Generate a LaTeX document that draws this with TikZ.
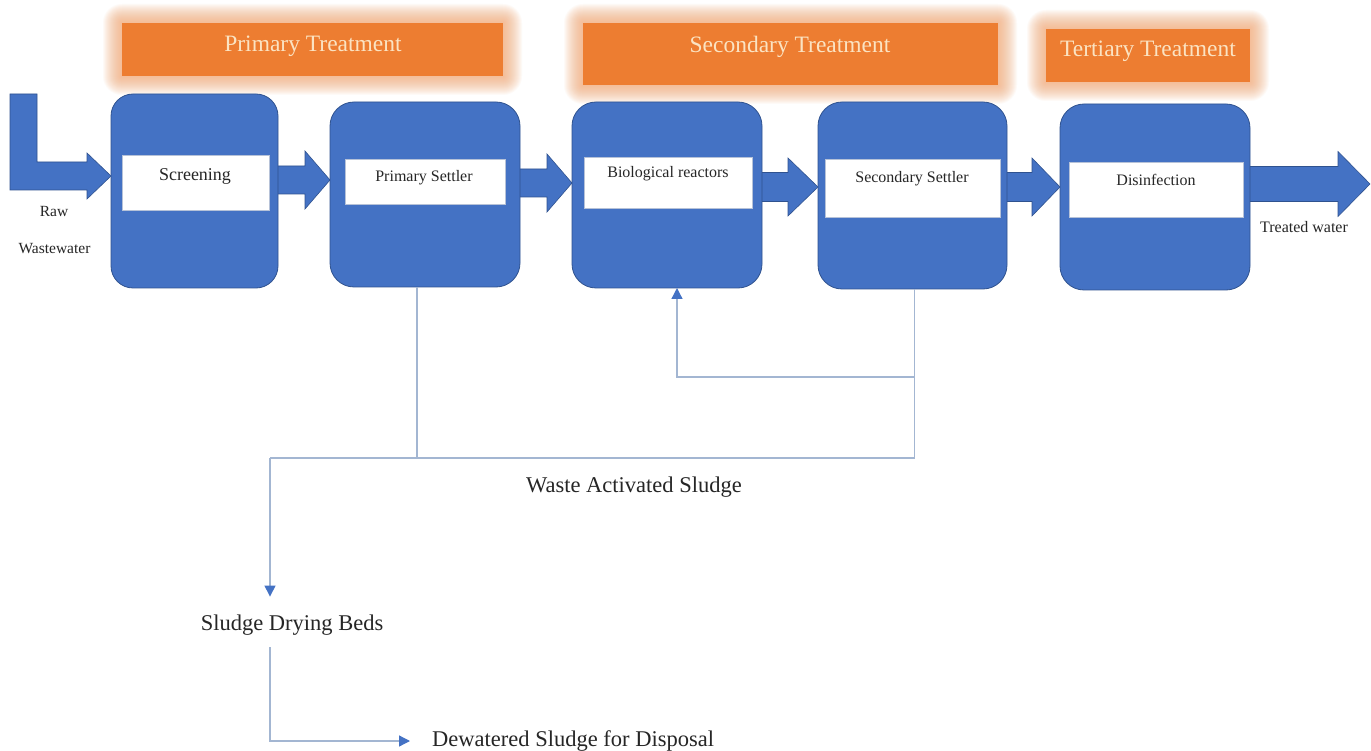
\documentclass[tikz,border=0pt]{standalone}
\usepackage{fontspec}
\setmainfont{Liberation Serif}
\usetikzlibrary{arrows.meta,calc}
\definecolor{boxblue}{HTML}{4472C4}
\definecolor{boxedge}{HTML}{2F528F}
\definecolor{hdrorange}{HTML}{ED7D31}
\definecolor{hdrglow}{HTML}{F4A46E}
\definecolor{hdrtext}{HTML}{FBE3C2}
\definecolor{thinline}{HTML}{A3B6D2}
\definecolor{txt}{HTML}{262626}
\tikzset{
 unitbox/.style={draw=boxedge, fill=boxblue, line width=0.8pt, rounded corners=24pt, inner sep=0pt, outer sep=0pt},
 whitebox/.style={fill=white, draw=boxedge!35, line width=0.4pt, inner sep=0pt, outer sep=0pt},
 lbl/.style={text=txt, font=\fontsize{16}{18}\selectfont, inner sep=0pt},
 biglbl/.style={text=txt, font=\fontsize{22.5}{26}\selectfont, inner sep=0pt},
 hdr/.style={fill=hdrorange, inner sep=0pt, outer sep=0pt},
 hdrtxt/.style={text=hdrtext, font=\fontsize{23.5}{26}\selectfont, inner sep=0pt},
 barrow/.style={fill=boxblue, draw=boxedge, line width=0.6pt, line join=miter},
 flow/.style={draw=thinline, line width=1.3pt},
 tip/.style={-{Triangle[width=11pt,length=11pt,color=boxblue]}},
 glow/.style={fill=hdrglow, opacity=0.055},
}
\newcommand\blockarr[5]{%
 \path #1 coordinate (ba1) #2 coordinate (ba2);
 \filldraw[barrow] ($(ba1)+(0,-#3)$) -- ($(ba2)+(-#5,-#3)$) -- ($(ba2)+(-#5,-#4)$) -- (ba2) -- ($(ba2)+(-#5,#4)$) -- ($(ba2)+(-#5,#3)$) -- ($(ba1)+(0,#3)$) -- cycle;}
\begin{document}
\begin{tikzpicture}[x=1pt,y=-1pt]
\useasboundingbox (0,0) rectangle (1371,751);
\fill[white] (0,0) rectangle (1371,751);

% headers with glow
\node[hdr, minimum width=381pt, minimum height=53pt] (h1) at (312.5,49.5) {};
\node[hdr, minimum width=415pt, minimum height=62pt] (h2) at (790.5,54) {};
\node[hdr, minimum width=204pt, minimum height=53pt] (h3) at (1148,55.5) {};
\foreach \h in {h1,h2,h3}{
  \foreach \k in {1,...,19}{
    \fill[glow, rounded corners=\k pt] ($(\h.north west)+(-\k,-\k)$) rectangle ($(\h.south east)+(\k,\k)$);
  }
}
\foreach \h in {h1,h2,h3}{ \fill[hdrorange] (\h.north west) rectangle (\h.south east); }
\node[hdrtxt] at (313,46) {Primary Treatment};
\node[hdrtxt] at (790,47) {Secondary Treatment};
\node[hdrtxt] at (1148,51) {Tertiary Treatment};

% unit boxes (positions)
\path (194.5,191) coordinate (c1) (425,194.5) coordinate (c2) (667,195) coordinate (c3) (912.5,195.5) coordinate (c4) (1155,197) coordinate (c5);
\node[minimum width=167pt, minimum height=194pt, inner sep=0pt, outer sep=0pt] (s1) at (c1) {};
\node[minimum width=190pt, minimum height=185pt, inner sep=0pt, outer sep=0pt] (s2) at (c2) {};
\node[minimum width=190pt, minimum height=186pt, inner sep=0pt, outer sep=0pt] (s3) at (c3) {};
\node[minimum width=189pt, minimum height=187pt, inner sep=0pt, outer sep=0pt] (s4) at (c4) {};
\node[minimum width=190pt, minimum height=186pt, inner sep=0pt, outer sep=0pt] (s5) at (c5) {};

% block arrows
\filldraw[barrow] (10,94) -- (37,94) -- (37,162) -- (87,162) -- (87,153) -- (s1.west |- 0,176) -- (87,199) -- (87,190) -- (10,190) -- cycle;
\blockarr{($(s1.east |- 0,180)+(-5,0)$)}{(s2.west |- 0,180)}{14}{29}{25}
\blockarr{($(s2.east |- 0,183)+(-5,0)$)}{(s3.west |- 0,183)}{14}{29}{25}
\blockarr{($(s3.east |- 0,187)+(-5,0)$)}{(s4.west |- 0,187)}{14.5}{29}{30}
\blockarr{($(s4.east |- 0,187)+(-5,0)$)}{(s5.west |- 0,187)}{14.5}{29}{28}
\coordinate (outend) at (1370,184);
\blockarr{($(s5.east |- 0,184)+(-5,0)$)}{(outend)}{17.5}{32.5}{32}

% draw unit boxes
\node[unitbox, minimum width=167pt, minimum height=194pt, rounded corners=22pt] at (c1) {};
\node[unitbox, minimum width=190pt, minimum height=185pt] at (c2) {};
\node[unitbox, minimum width=190pt, minimum height=186pt] at (c3) {};
\node[unitbox, minimum width=189pt, minimum height=187pt] at (c4) {};
\node[unitbox, minimum width=190pt, minimum height=186pt] at (c5) {};

% white label panels
\node[whitebox, minimum width=147pt, minimum height=55pt] (w1) at (195.5,182.5) {};
\node[whitebox, minimum width=160pt, minimum height=45pt] (w2) at (425,181.5) {};
\node[whitebox, minimum width=168pt, minimum height=51pt] (w3) at (668,182.5) {};
\node[whitebox, minimum width=175pt, minimum height=58pt] (w4) at (912.5,188) {};
\node[whitebox, minimum width=174pt, minimum height=55pt] (w5) at (1156,189.5) {};
\node[lbl, font=\fontsize{18}{20}\selectfont] at (195,176) {Screening};
\node[lbl] at (424,178) {Primary Settler};
\node[lbl] at (668,174) {Biological reactors};
\node[lbl] at (912,179) {Secondary Settler};
\node[lbl] at (1156,180) {Disinfection};

% side labels
\node[lbl, font=\fontsize{15.5}{18}\selectfont] (raw) at (54,212) {Raw};
\node[lbl, font=\fontsize{15.5}{18}\selectfont] (ww) at (54.5,249) {Wastewater};
\node[lbl] (tw) at (1304,227) {Treated water};

% sludge lines
\node[biglbl] (was) at (634,487) {Waste Activated Sludge};
\node[biglbl] (beds) at (292,625) {Sludge Drying Beds};
\node[biglbl, anchor=west] (dew) at (432,741) {Dewatered Sludge for Disposal};
\coordinate (jl) at (270,458);
\coordinate (p2) at ($(s2.south)+(-8,0)$);
\coordinate (p4) at ($(s4.south)+(2,0)$);
\draw[flow] (p2) -- (p2 |- jl);
\draw[flow] (p4) |- (jl);
\draw[flow,tip] ($(p4 |- 0,377)$) -| ($(s3.south)+(10,0)$);
\draw[flow,tip,shorten >=18pt] (jl) -- (jl |- beds.north);
\draw[flow,tip,shorten <=12pt,shorten >=22pt] (jl |- beds.south) |- (dew.west);
\end{tikzpicture}
\end{document}
